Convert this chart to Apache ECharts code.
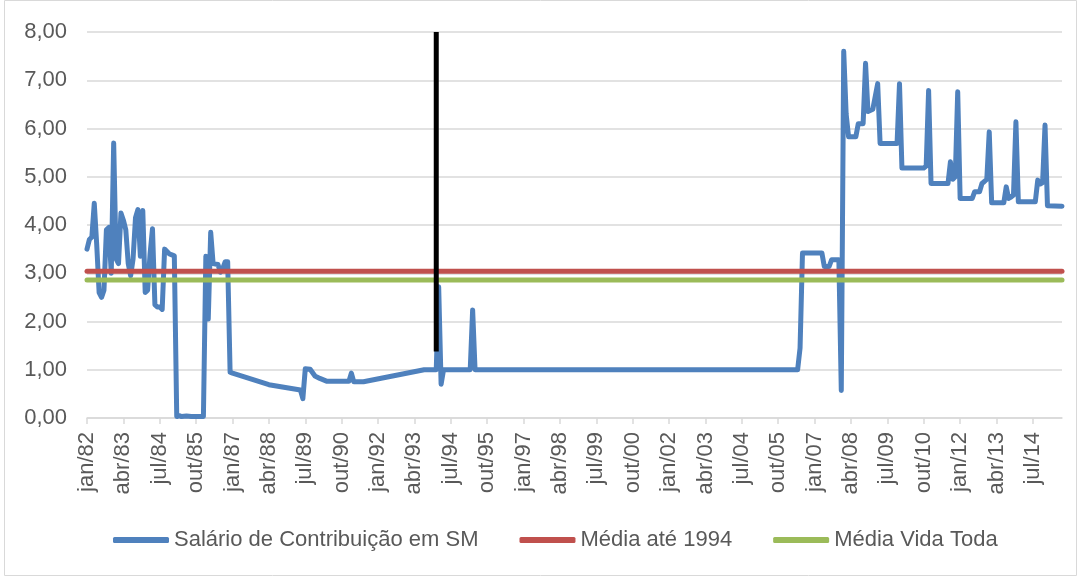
<!DOCTYPE html>
<html>
<head>
<meta charset="utf-8">
<script src="https://cdn.jsdelivr.net/npm/echarts@6/dist/echarts.min.js"></script>
<style>
  html, body { margin: 0; padding: 0; background: #fff; }
  #chart { width: 1081px; height: 576px; }
</style>
</head>
<body>
<div id="chart"></div>
<script>
// meses do eixo: jan/82 até jul/15
const nomesMes = ["jan", "fev", "mar", "abr", "mai", "jun", "jul", "ago", "set", "out", "nov", "dez"];
const categorias = [];
for (let a = 1982; a <= 2015; a++) {
  for (let m = 0; m < 12; m++) {
    if (a === 2015 && m > 6) break;
    categorias.push(nomesMes[m] + "/" + String(a).slice(2));
  }
}

// salário de contribuição em SM
const mesesSalario = [
  "jan/82", "fev/82", "mar/82", "abr/82", "mai/82", "jun/82", "jul/82", "ago/82", "set/82", "out/82", "nov/82", "dez/82",
  "jan/83", "fev/83", "mar/83", "abr/83", "mai/83", "jun/83", "jul/83", "ago/83", "set/83", "out/83", "nov/83", "dez/83",
  "jan/84", "fev/84", "mar/84", "abr/84", "mai/84", "jun/84", "jul/84", "ago/84", "set/84", "out/84", "nov/84", "dez/84",
  "jan/85", "fev/85", "mar/85", "abr/85", "jun/85", "ago/85", "nov/85",
  "jan/86", "fev/86", "mar/86", "abr/86", "mai/86", "jul/86", "ago/86", "set/86", "out/86", "nov/86", "dez/86",
  "jan/87", "abr/88", "mai/89", "jun/89", "jul/89", "set/89", "nov/89", "jan/90", "abr/90",
  "jan/91", "fev/91", "mar/91", "jul/91", "ago/93",
  "jan/94", "fev/94", "mar/94", "abr/94", "mar/95", "abr/95", "mai/95",
  "jun/06", "jul/06", "ago/06", "abr/07", "mai/07", "jul/07", "ago/07", "nov/07", "dez/07",
  "jan/08", "fev/08", "mar/08", "jun/08", "jul/08", "set/08", "out/08", "nov/08",
  "jan/09", "mar/09", "abr/09", "nov/09", "dez/09",
  "jan/10", "out/10", "nov/10", "dez/10",
  "jan/11", "ago/11", "set/11", "out/11", "nov/11", "dez/11",
  "jan/12", "jun/12", "jul/12", "set/12", "out/12", "nov/12", "dez/12",
  "jan/13", "fev/13", "jul/13", "ago/13", "set/13", "out/13", "nov/13", "dez/13",
  "jan/14", "ago/14", "set/14", "out/14", "nov/14", "dez/14",
  "jan/15", "jul/15"
];
const valoresSalario = [
  3.50, 3.70, 3.75, 4.45, 3.60, 2.60, 2.50, 2.65, 3.90, 3.95, 3.00, 5.70,
  3.30, 3.20, 4.25, 4.10, 3.90, 3.20, 2.95, 3.30, 4.15, 4.32, 3.35, 4.30,
  2.60, 2.65, 3.40, 3.92, 2.35, 2.30, 2.30, 2.25, 3.50, 3.45, 3.40, 3.38,
  3.36, 0.03, 0.05, 0.03, 0.04, 0.03, 0.03,
  0.03, 3.35, 2.05, 3.85, 3.20, 3.18, 3.02, 3.10, 3.24, 3.24, 0.95,
  0.93, 0.69, 0.58, 0.40, 1.02, 1.01, 0.87, 0.82, 0.76,
  0.76, 0.93, 0.75, 0.75, 1.00,
  1.00, 2.72, 0.70, 1.00, 1.00, 2.24, 1.00,
  1.00, 1.45, 3.42, 3.42, 3.14, 3.14, 3.28, 3.28, 0.57,
  7.60, 6.30, 5.83, 5.83, 6.10, 6.10, 7.35, 6.35,
  6.40, 6.93, 5.69, 5.69, 6.93,
  5.18, 5.18, 5.22, 6.79,
  4.86, 4.86, 5.31, 4.95, 5.00, 6.76,
  4.55, 4.55, 4.69, 4.69, 4.86, 4.90, 4.95,
  5.93, 4.46, 4.46, 4.79, 4.55, 4.58, 4.62, 6.14,
  4.48, 4.48, 4.93, 4.85, 4.88, 6.07,
  4.40, 4.39
];

const mediaAte1994 = 3.04;
const mediaVidaToda = 2.86;

// marco vertical (jan/94)
const marcoMes = "jan/94";
const marcoValores = [1.38, 8.0];

const chart = echarts.init(document.getElementById("chart"));
const fonte = "Liberation Sans";
const primeiro = categorias[0];
const ultimo = categorias[categorias.length - 1];

chart.setOption({
  animation: false,
  textStyle: { fontFamily: fonte },
  graphic: [{
    type: "rect",
    shape: { x: 4.5, y: 0.5, width: 1072, height: 575 },
    style: { fill: "none", stroke: "#d9d9d9", lineWidth: 1 },
    silent: true
  }],
  legend: {
    data: ["Salário de Contribuição em SM", "Média até 1994", "Média Vida Toda"],
    bottom: 20,
    left: 108,
    icon: "roundRect",
    itemWidth: 56,
    itemHeight: 6,
    itemGap: 41,
    textStyle: { fontFamily: fonte, fontSize: 22, color: "#595959" }
  },
  grid: { left: 87, right: 19, top: 32, bottom: 158 },
  xAxis: {
    type: "category",
    data: categorias,
    boundaryGap: false,
    axisLine: { lineStyle: { color: "#d9d9d9", width: 1.5 } },
    axisTick: { interval: 14, length: 6, lineStyle: { color: "#d9d9d9", width: 1.5 } },
    axisLabel: {
      interval: 14,
      rotate: 90,
      margin: 14,
      fontFamily: fonte,
      fontSize: 22,
      color: "#595959"
    },
    splitLine: { show: false }
  },
  yAxis: {
    type: "value",
    min: 0,
    max: 8,
    interval: 1,
    axisLine: { show: false },
    axisTick: { show: false },
    axisLabel: {
      margin: 20,
      fontFamily: fonte,
      fontSize: 22,
      color: "#595959",
      formatter: v => v.toFixed(2).replace(".", ",")
    },
    splitLine: { lineStyle: { color: "#d9d9d9", width: 1.5 } }
  },
  series: [
    {
      name: "Salário de Contribuição em SM",
      type: "line",
      showSymbol: false,
      lineStyle: { color: "#4f81bd", width: 5, join: "round", cap: "round" },
      itemStyle: { color: "#4f81bd" },
      data: mesesSalario.map((m, i) => [m, valoresSalario[i]])
    },
    {
      name: "Média até 1994",
      type: "line",
      showSymbol: false,
      lineStyle: { color: "#c0504d", width: 5, cap: "round" },
      itemStyle: { color: "#c0504d" },
      data: [[primeiro, mediaAte1994], [ultimo, mediaAte1994]]
    },
    {
      name: "Média Vida Toda",
      type: "line",
      showSymbol: false,
      lineStyle: { color: "#9bbb59", width: 5, cap: "round" },
      itemStyle: { color: "#9bbb59" },
      data: [[primeiro, mediaVidaToda], [ultimo, mediaVidaToda]]
    },
    {
      name: "Marco",
      type: "line",
      showSymbol: false,
      lineStyle: { color: "#000000", width: 5 },
      itemStyle: { color: "#000000" },
      data: marcoValores.map(v => [marcoMes, v])
    }
  ]
});
</script>
</body>
</html>
